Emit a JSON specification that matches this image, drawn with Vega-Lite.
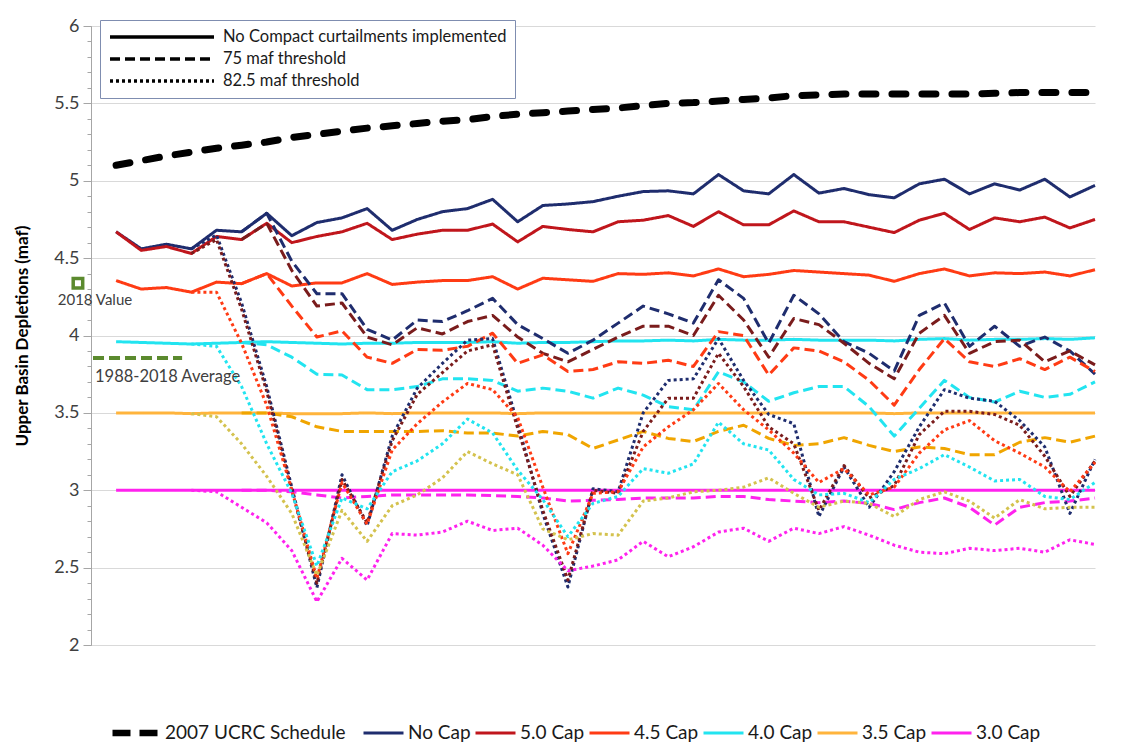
{
"$schema":"https://vega.github.io/schema/vega-lite/v6.json",
"width":1004,"height":619,
"autosize":{"type":"none"},
"padding":{"left":91,"top":26,"right":29,"bottom":101},
"background":"white",
"config":{"font":"Lato","view":{"stroke":null},"axis":{"labelFont":"Lato","titleFont":"Lato"},"legend":{"labelFont":"Lato"}},
"datasets":{
"ucrc":[
{"year":2021,"cap":"2007 UCRC Schedule","value":5.10},{"year":2022,"cap":"2007 UCRC Schedule","value":5.13},{"year":2023,"cap":"2007 UCRC Schedule","value":5.16},{"year":2024,"cap":"2007 UCRC Schedule","value":5.185},{"year":2025,"cap":"2007 UCRC Schedule","value":5.21},
{"year":2026,"cap":"2007 UCRC Schedule","value":5.23},{"year":2027,"cap":"2007 UCRC Schedule","value":5.25},{"year":2028,"cap":"2007 UCRC Schedule","value":5.28},{"year":2029,"cap":"2007 UCRC Schedule","value":5.30},{"year":2030,"cap":"2007 UCRC Schedule","value":5.32},
{"year":2031,"cap":"2007 UCRC Schedule","value":5.34},{"year":2032,"cap":"2007 UCRC Schedule","value":5.355},{"year":2033,"cap":"2007 UCRC Schedule","value":5.37},{"year":2034,"cap":"2007 UCRC Schedule","value":5.385},{"year":2035,"cap":"2007 UCRC Schedule","value":5.395},
{"year":2036,"cap":"2007 UCRC Schedule","value":5.415},{"year":2037,"cap":"2007 UCRC Schedule","value":5.43},{"year":2038,"cap":"2007 UCRC Schedule","value":5.44},{"year":2039,"cap":"2007 UCRC Schedule","value":5.45},{"year":2040,"cap":"2007 UCRC Schedule","value":5.46},
{"year":2041,"cap":"2007 UCRC Schedule","value":5.47},{"year":2042,"cap":"2007 UCRC Schedule","value":5.485},{"year":2043,"cap":"2007 UCRC Schedule","value":5.50},{"year":2044,"cap":"2007 UCRC Schedule","value":5.505},{"year":2045,"cap":"2007 UCRC Schedule","value":5.515},
{"year":2046,"cap":"2007 UCRC Schedule","value":5.525},{"year":2047,"cap":"2007 UCRC Schedule","value":5.535},{"year":2048,"cap":"2007 UCRC Schedule","value":5.55},{"year":2049,"cap":"2007 UCRC Schedule","value":5.555},{"year":2050,"cap":"2007 UCRC Schedule","value":5.56},
{"year":2051,"cap":"2007 UCRC Schedule","value":5.56},{"year":2052,"cap":"2007 UCRC Schedule","value":5.56},{"year":2053,"cap":"2007 UCRC Schedule","value":5.56},{"year":2054,"cap":"2007 UCRC Schedule","value":5.56},{"year":2055,"cap":"2007 UCRC Schedule","value":5.56},
{"year":2056,"cap":"2007 UCRC Schedule","value":5.565},{"year":2057,"cap":"2007 UCRC Schedule","value":5.57},{"year":2058,"cap":"2007 UCRC Schedule","value":5.57},{"year":2059,"cap":"2007 UCRC Schedule","value":5.57},{"year":2060,"cap":"2007 UCRC Schedule","value":5.57}
],
"ref2018":[{"year":2019.48,"value":4.337}],
"avg":[{"start":2020.08,"end":2023.63,"value":3.855}],
"caps":[
{"year":2021,"cap":"No Cap","case":"none","value":4.67},{"year":2022,"cap":"No Cap","case":"none","value":4.56},{"year":2023,"cap":"No Cap","case":"none","value":4.59},{"year":2024,"cap":"No Cap","case":"none","value":4.56},{"year":2025,"cap":"No Cap","case":"none","value":4.68},
{"year":2026,"cap":"No Cap","case":"none","value":4.67},{"year":2027,"cap":"No Cap","case":"none","value":4.79},{"year":2028,"cap":"No Cap","case":"none","value":4.645},{"year":2029,"cap":"No Cap","case":"none","value":4.73},{"year":2030,"cap":"No Cap","case":"none","value":4.76},
{"year":2031,"cap":"No Cap","case":"none","value":4.82},{"year":2032,"cap":"No Cap","case":"none","value":4.68},{"year":2033,"cap":"No Cap","case":"none","value":4.75},{"year":2034,"cap":"No Cap","case":"none","value":4.80},{"year":2035,"cap":"No Cap","case":"none","value":4.82},
{"year":2036,"cap":"No Cap","case":"none","value":4.88},{"year":2037,"cap":"No Cap","case":"none","value":4.735},{"year":2038,"cap":"No Cap","case":"none","value":4.84},{"year":2039,"cap":"No Cap","case":"none","value":4.85},{"year":2040,"cap":"No Cap","case":"none","value":4.865},
{"year":2041,"cap":"No Cap","case":"none","value":4.90},{"year":2042,"cap":"No Cap","case":"none","value":4.93},{"year":2043,"cap":"No Cap","case":"none","value":4.935},{"year":2044,"cap":"No Cap","case":"none","value":4.915},{"year":2045,"cap":"No Cap","case":"none","value":5.04},
{"year":2046,"cap":"No Cap","case":"none","value":4.935},{"year":2047,"cap":"No Cap","case":"none","value":4.915},{"year":2048,"cap":"No Cap","case":"none","value":5.04},{"year":2049,"cap":"No Cap","case":"none","value":4.92},{"year":2050,"cap":"No Cap","case":"none","value":4.95},
{"year":2051,"cap":"No Cap","case":"none","value":4.91},{"year":2052,"cap":"No Cap","case":"none","value":4.89},{"year":2053,"cap":"No Cap","case":"none","value":4.98},{"year":2054,"cap":"No Cap","case":"none","value":5.01},{"year":2055,"cap":"No Cap","case":"none","value":4.915},
{"year":2056,"cap":"No Cap","case":"none","value":4.98},{"year":2057,"cap":"No Cap","case":"none","value":4.94},{"year":2058,"cap":"No Cap","case":"none","value":5.01},{"year":2059,"cap":"No Cap","case":"none","value":4.895},{"year":2060,"cap":"No Cap","case":"none","value":4.97},

{"year":2021,"cap":"5.0 Cap","case":"none","value":4.67},{"year":2022,"cap":"5.0 Cap","case":"none","value":4.55},{"year":2023,"cap":"5.0 Cap","case":"none","value":4.575},{"year":2024,"cap":"5.0 Cap","case":"none","value":4.53},{"year":2025,"cap":"5.0 Cap","case":"none","value":4.64},
{"year":2026,"cap":"5.0 Cap","case":"none","value":4.62},{"year":2027,"cap":"5.0 Cap","case":"none","value":4.725},{"year":2028,"cap":"5.0 Cap","case":"none","value":4.60},{"year":2029,"cap":"5.0 Cap","case":"none","value":4.64},{"year":2030,"cap":"5.0 Cap","case":"none","value":4.67},
{"year":2031,"cap":"5.0 Cap","case":"none","value":4.725},{"year":2032,"cap":"5.0 Cap","case":"none","value":4.62},{"year":2033,"cap":"5.0 Cap","case":"none","value":4.655},{"year":2034,"cap":"5.0 Cap","case":"none","value":4.68},{"year":2035,"cap":"5.0 Cap","case":"none","value":4.68},
{"year":2036,"cap":"5.0 Cap","case":"none","value":4.72},{"year":2037,"cap":"5.0 Cap","case":"none","value":4.605},{"year":2038,"cap":"5.0 Cap","case":"none","value":4.705},{"year":2039,"cap":"5.0 Cap","case":"none","value":4.685},{"year":2040,"cap":"5.0 Cap","case":"none","value":4.67},
{"year":2041,"cap":"5.0 Cap","case":"none","value":4.735},{"year":2042,"cap":"5.0 Cap","case":"none","value":4.745},{"year":2043,"cap":"5.0 Cap","case":"none","value":4.775},{"year":2044,"cap":"5.0 Cap","case":"none","value":4.705},{"year":2045,"cap":"5.0 Cap","case":"none","value":4.80},
{"year":2046,"cap":"5.0 Cap","case":"none","value":4.715},{"year":2047,"cap":"5.0 Cap","case":"none","value":4.715},{"year":2048,"cap":"5.0 Cap","case":"none","value":4.805},{"year":2049,"cap":"5.0 Cap","case":"none","value":4.735},{"year":2050,"cap":"5.0 Cap","case":"none","value":4.735},
{"year":2051,"cap":"5.0 Cap","case":"none","value":4.70},{"year":2052,"cap":"5.0 Cap","case":"none","value":4.665},{"year":2053,"cap":"5.0 Cap","case":"none","value":4.745},{"year":2054,"cap":"5.0 Cap","case":"none","value":4.79},{"year":2055,"cap":"5.0 Cap","case":"none","value":4.685},
{"year":2056,"cap":"5.0 Cap","case":"none","value":4.76},{"year":2057,"cap":"5.0 Cap","case":"none","value":4.735},{"year":2058,"cap":"5.0 Cap","case":"none","value":4.765},{"year":2059,"cap":"5.0 Cap","case":"none","value":4.695},{"year":2060,"cap":"5.0 Cap","case":"none","value":4.75},

{"year":2021,"cap":"4.5 Cap","case":"none","value":4.355},{"year":2022,"cap":"4.5 Cap","case":"none","value":4.30},{"year":2023,"cap":"4.5 Cap","case":"none","value":4.31},{"year":2024,"cap":"4.5 Cap","case":"none","value":4.28},{"year":2025,"cap":"4.5 Cap","case":"none","value":4.345},
{"year":2026,"cap":"4.5 Cap","case":"none","value":4.335},{"year":2027,"cap":"4.5 Cap","case":"none","value":4.40},{"year":2028,"cap":"4.5 Cap","case":"none","value":4.32},{"year":2029,"cap":"4.5 Cap","case":"none","value":4.34},{"year":2030,"cap":"4.5 Cap","case":"none","value":4.34},
{"year":2031,"cap":"4.5 Cap","case":"none","value":4.40},{"year":2032,"cap":"4.5 Cap","case":"none","value":4.33},{"year":2033,"cap":"4.5 Cap","case":"none","value":4.345},{"year":2034,"cap":"4.5 Cap","case":"none","value":4.355},{"year":2035,"cap":"4.5 Cap","case":"none","value":4.355},
{"year":2036,"cap":"4.5 Cap","case":"none","value":4.38},{"year":2037,"cap":"4.5 Cap","case":"none","value":4.30},{"year":2038,"cap":"4.5 Cap","case":"none","value":4.37},{"year":2039,"cap":"4.5 Cap","case":"none","value":4.36},{"year":2040,"cap":"4.5 Cap","case":"none","value":4.35},
{"year":2041,"cap":"4.5 Cap","case":"none","value":4.40},{"year":2042,"cap":"4.5 Cap","case":"none","value":4.395},{"year":2043,"cap":"4.5 Cap","case":"none","value":4.405},{"year":2044,"cap":"4.5 Cap","case":"none","value":4.385},{"year":2045,"cap":"4.5 Cap","case":"none","value":4.43},
{"year":2046,"cap":"4.5 Cap","case":"none","value":4.38},{"year":2047,"cap":"4.5 Cap","case":"none","value":4.395},{"year":2048,"cap":"4.5 Cap","case":"none","value":4.42},{"year":2049,"cap":"4.5 Cap","case":"none","value":4.41},{"year":2050,"cap":"4.5 Cap","case":"none","value":4.40},
{"year":2051,"cap":"4.5 Cap","case":"none","value":4.39},{"year":2052,"cap":"4.5 Cap","case":"none","value":4.35},{"year":2053,"cap":"4.5 Cap","case":"none","value":4.40},{"year":2054,"cap":"4.5 Cap","case":"none","value":4.43},{"year":2055,"cap":"4.5 Cap","case":"none","value":4.385},
{"year":2056,"cap":"4.5 Cap","case":"none","value":4.405},{"year":2057,"cap":"4.5 Cap","case":"none","value":4.40},{"year":2058,"cap":"4.5 Cap","case":"none","value":4.41},{"year":2059,"cap":"4.5 Cap","case":"none","value":4.385},{"year":2060,"cap":"4.5 Cap","case":"none","value":4.425},

{"year":2021,"cap":"4.0 Cap","case":"none","value":3.96},{"year":2022,"cap":"4.0 Cap","case":"none","value":3.955},{"year":2023,"cap":"4.0 Cap","case":"none","value":3.95},{"year":2024,"cap":"4.0 Cap","case":"none","value":3.945},{"year":2025,"cap":"4.0 Cap","case":"none","value":3.95},
{"year":2026,"cap":"4.0 Cap","case":"none","value":3.955},{"year":2027,"cap":"4.0 Cap","case":"none","value":3.96},{"year":2028,"cap":"4.0 Cap","case":"none","value":3.955},{"year":2029,"cap":"4.0 Cap","case":"none","value":3.95},{"year":2030,"cap":"4.0 Cap","case":"none","value":3.945},
{"year":2031,"cap":"4.0 Cap","case":"none","value":3.95},{"year":2032,"cap":"4.0 Cap","case":"none","value":3.95},{"year":2033,"cap":"4.0 Cap","case":"none","value":3.955},{"year":2034,"cap":"4.0 Cap","case":"none","value":3.955},{"year":2035,"cap":"4.0 Cap","case":"none","value":3.955},
{"year":2036,"cap":"4.0 Cap","case":"none","value":3.96},{"year":2037,"cap":"4.0 Cap","case":"none","value":3.95},{"year":2038,"cap":"4.0 Cap","case":"none","value":3.955},{"year":2039,"cap":"4.0 Cap","case":"none","value":3.955},{"year":2040,"cap":"4.0 Cap","case":"none","value":3.96},
{"year":2041,"cap":"4.0 Cap","case":"none","value":3.965},{"year":2042,"cap":"4.0 Cap","case":"none","value":3.965},{"year":2043,"cap":"4.0 Cap","case":"none","value":3.97},{"year":2044,"cap":"4.0 Cap","case":"none","value":3.965},{"year":2045,"cap":"4.0 Cap","case":"none","value":3.975},
{"year":2046,"cap":"4.0 Cap","case":"none","value":3.97},{"year":2047,"cap":"4.0 Cap","case":"none","value":3.97},{"year":2048,"cap":"4.0 Cap","case":"none","value":3.975},{"year":2049,"cap":"4.0 Cap","case":"none","value":3.97},{"year":2050,"cap":"4.0 Cap","case":"none","value":3.97},
{"year":2051,"cap":"4.0 Cap","case":"none","value":3.97},{"year":2052,"cap":"4.0 Cap","case":"none","value":3.965},{"year":2053,"cap":"4.0 Cap","case":"none","value":3.975},{"year":2054,"cap":"4.0 Cap","case":"none","value":3.98},{"year":2055,"cap":"4.0 Cap","case":"none","value":3.97},
{"year":2056,"cap":"4.0 Cap","case":"none","value":3.975},{"year":2057,"cap":"4.0 Cap","case":"none","value":3.975},{"year":2058,"cap":"4.0 Cap","case":"none","value":3.98},{"year":2059,"cap":"4.0 Cap","case":"none","value":3.975},{"year":2060,"cap":"4.0 Cap","case":"none","value":3.985},

{"year":2021,"cap":"3.5 Cap","case":"none","value":3.50},{"year":2022,"cap":"3.5 Cap","case":"none","value":3.50},{"year":2023,"cap":"3.5 Cap","case":"none","value":3.50},{"year":2024,"cap":"3.5 Cap","case":"none","value":3.495},{"year":2025,"cap":"3.5 Cap","case":"none","value":3.50},
{"year":2026,"cap":"3.5 Cap","case":"none","value":3.50},{"year":2027,"cap":"3.5 Cap","case":"none","value":3.50},{"year":2028,"cap":"3.5 Cap","case":"none","value":3.495},{"year":2029,"cap":"3.5 Cap","case":"none","value":3.495},{"year":2030,"cap":"3.5 Cap","case":"none","value":3.495},
{"year":2031,"cap":"3.5 Cap","case":"none","value":3.50},{"year":2032,"cap":"3.5 Cap","case":"none","value":3.495},{"year":2033,"cap":"3.5 Cap","case":"none","value":3.50},{"year":2034,"cap":"3.5 Cap","case":"none","value":3.50},{"year":2035,"cap":"3.5 Cap","case":"none","value":3.50},
{"year":2036,"cap":"3.5 Cap","case":"none","value":3.50},{"year":2037,"cap":"3.5 Cap","case":"none","value":3.495},{"year":2038,"cap":"3.5 Cap","case":"none","value":3.50},{"year":2039,"cap":"3.5 Cap","case":"none","value":3.50},{"year":2040,"cap":"3.5 Cap","case":"none","value":3.50},
{"year":2041,"cap":"3.5 Cap","case":"none","value":3.50},{"year":2042,"cap":"3.5 Cap","case":"none","value":3.50},{"year":2043,"cap":"3.5 Cap","case":"none","value":3.50},{"year":2044,"cap":"3.5 Cap","case":"none","value":3.50},{"year":2045,"cap":"3.5 Cap","case":"none","value":3.50},
{"year":2046,"cap":"3.5 Cap","case":"none","value":3.50},{"year":2047,"cap":"3.5 Cap","case":"none","value":3.50},{"year":2048,"cap":"3.5 Cap","case":"none","value":3.50},{"year":2049,"cap":"3.5 Cap","case":"none","value":3.50},{"year":2050,"cap":"3.5 Cap","case":"none","value":3.50},
{"year":2051,"cap":"3.5 Cap","case":"none","value":3.50},{"year":2052,"cap":"3.5 Cap","case":"none","value":3.495},{"year":2053,"cap":"3.5 Cap","case":"none","value":3.50},{"year":2054,"cap":"3.5 Cap","case":"none","value":3.50},{"year":2055,"cap":"3.5 Cap","case":"none","value":3.50},
{"year":2056,"cap":"3.5 Cap","case":"none","value":3.50},{"year":2057,"cap":"3.5 Cap","case":"none","value":3.50},{"year":2058,"cap":"3.5 Cap","case":"none","value":3.50},{"year":2059,"cap":"3.5 Cap","case":"none","value":3.50},{"year":2060,"cap":"3.5 Cap","case":"none","value":3.50},

{"year":2021,"cap":"3.0 Cap","case":"none","value":3.0},{"year":2022,"cap":"3.0 Cap","case":"none","value":3.0},{"year":2023,"cap":"3.0 Cap","case":"none","value":3.0},{"year":2024,"cap":"3.0 Cap","case":"none","value":3.0},{"year":2025,"cap":"3.0 Cap","case":"none","value":3.0},
{"year":2026,"cap":"3.0 Cap","case":"none","value":3.0},{"year":2027,"cap":"3.0 Cap","case":"none","value":3.0},{"year":2028,"cap":"3.0 Cap","case":"none","value":3.0},{"year":2029,"cap":"3.0 Cap","case":"none","value":3.0},{"year":2030,"cap":"3.0 Cap","case":"none","value":3.0},
{"year":2031,"cap":"3.0 Cap","case":"none","value":3.0},{"year":2032,"cap":"3.0 Cap","case":"none","value":3.0},{"year":2033,"cap":"3.0 Cap","case":"none","value":3.0},{"year":2034,"cap":"3.0 Cap","case":"none","value":3.0},{"year":2035,"cap":"3.0 Cap","case":"none","value":3.0},
{"year":2036,"cap":"3.0 Cap","case":"none","value":3.0},{"year":2037,"cap":"3.0 Cap","case":"none","value":3.0},{"year":2038,"cap":"3.0 Cap","case":"none","value":3.0},{"year":2039,"cap":"3.0 Cap","case":"none","value":3.0},{"year":2040,"cap":"3.0 Cap","case":"none","value":3.0},
{"year":2041,"cap":"3.0 Cap","case":"none","value":3.0},{"year":2042,"cap":"3.0 Cap","case":"none","value":3.0},{"year":2043,"cap":"3.0 Cap","case":"none","value":3.0},{"year":2044,"cap":"3.0 Cap","case":"none","value":3.0},{"year":2045,"cap":"3.0 Cap","case":"none","value":3.0},
{"year":2046,"cap":"3.0 Cap","case":"none","value":3.0},{"year":2047,"cap":"3.0 Cap","case":"none","value":3.0},{"year":2048,"cap":"3.0 Cap","case":"none","value":3.0},{"year":2049,"cap":"3.0 Cap","case":"none","value":3.0},{"year":2050,"cap":"3.0 Cap","case":"none","value":3.0},
{"year":2051,"cap":"3.0 Cap","case":"none","value":3.0},{"year":2052,"cap":"3.0 Cap","case":"none","value":3.0},{"year":2053,"cap":"3.0 Cap","case":"none","value":3.0},{"year":2054,"cap":"3.0 Cap","case":"none","value":3.0},{"year":2055,"cap":"3.0 Cap","case":"none","value":3.0},
{"year":2056,"cap":"3.0 Cap","case":"none","value":3.0},{"year":2057,"cap":"3.0 Cap","case":"none","value":3.0},{"year":2058,"cap":"3.0 Cap","case":"none","value":3.0},{"year":2059,"cap":"3.0 Cap","case":"none","value":3.0},{"year":2060,"cap":"3.0 Cap","case":"none","value":3.0},

{"year":2026,"cap":"No Cap","case":"75","value":4.67},{"year":2027,"cap":"No Cap","case":"75","value":4.79},{"year":2028,"cap":"No Cap","case":"75","value":4.48},{"year":2029,"cap":"No Cap","case":"75","value":4.27},{"year":2030,"cap":"No Cap","case":"75","value":4.27},
{"year":2031,"cap":"No Cap","case":"75","value":4.04},{"year":2032,"cap":"No Cap","case":"75","value":3.97},{"year":2033,"cap":"No Cap","case":"75","value":4.10},{"year":2034,"cap":"No Cap","case":"75","value":4.09},{"year":2035,"cap":"No Cap","case":"75","value":4.16},
{"year":2036,"cap":"No Cap","case":"75","value":4.24},{"year":2037,"cap":"No Cap","case":"75","value":4.07},{"year":2038,"cap":"No Cap","case":"75","value":3.98},{"year":2039,"cap":"No Cap","case":"75","value":3.885},{"year":2040,"cap":"No Cap","case":"75","value":3.97},
{"year":2041,"cap":"No Cap","case":"75","value":4.08},{"year":2042,"cap":"No Cap","case":"75","value":4.19},{"year":2043,"cap":"No Cap","case":"75","value":4.14},{"year":2044,"cap":"No Cap","case":"75","value":4.08},{"year":2045,"cap":"No Cap","case":"75","value":4.36},
{"year":2046,"cap":"No Cap","case":"75","value":4.24},{"year":2047,"cap":"No Cap","case":"75","value":3.95},{"year":2048,"cap":"No Cap","case":"75","value":4.26},{"year":2049,"cap":"No Cap","case":"75","value":4.14},{"year":2050,"cap":"No Cap","case":"75","value":3.96},
{"year":2051,"cap":"No Cap","case":"75","value":3.885},{"year":2052,"cap":"No Cap","case":"75","value":3.77},{"year":2053,"cap":"No Cap","case":"75","value":4.13},{"year":2054,"cap":"No Cap","case":"75","value":4.21},{"year":2055,"cap":"No Cap","case":"75","value":3.93},
{"year":2056,"cap":"No Cap","case":"75","value":4.06},{"year":2057,"cap":"No Cap","case":"75","value":3.93},{"year":2058,"cap":"No Cap","case":"75","value":3.99},{"year":2059,"cap":"No Cap","case":"75","value":3.90},{"year":2060,"cap":"No Cap","case":"75","value":3.75},

{"year":2026,"cap":"5.0 Cap","case":"75","value":4.62},{"year":2027,"cap":"5.0 Cap","case":"75","value":4.725},{"year":2028,"cap":"5.0 Cap","case":"75","value":4.42},{"year":2029,"cap":"5.0 Cap","case":"75","value":4.19},{"year":2030,"cap":"5.0 Cap","case":"75","value":4.21},
{"year":2031,"cap":"5.0 Cap","case":"75","value":3.99},{"year":2032,"cap":"5.0 Cap","case":"75","value":3.94},{"year":2033,"cap":"5.0 Cap","case":"75","value":4.05},{"year":2034,"cap":"5.0 Cap","case":"75","value":4.01},{"year":2035,"cap":"5.0 Cap","case":"75","value":4.09},
{"year":2036,"cap":"5.0 Cap","case":"75","value":4.13},{"year":2037,"cap":"5.0 Cap","case":"75","value":3.99},{"year":2038,"cap":"5.0 Cap","case":"75","value":3.885},{"year":2039,"cap":"5.0 Cap","case":"75","value":3.83},{"year":2040,"cap":"5.0 Cap","case":"75","value":3.91},
{"year":2041,"cap":"5.0 Cap","case":"75","value":3.99},{"year":2042,"cap":"5.0 Cap","case":"75","value":4.06},{"year":2043,"cap":"5.0 Cap","case":"75","value":4.06},{"year":2044,"cap":"5.0 Cap","case":"75","value":4.00},{"year":2045,"cap":"5.0 Cap","case":"75","value":4.26},
{"year":2046,"cap":"5.0 Cap","case":"75","value":4.10},{"year":2047,"cap":"5.0 Cap","case":"75","value":3.86},{"year":2048,"cap":"5.0 Cap","case":"75","value":4.11},{"year":2049,"cap":"5.0 Cap","case":"75","value":4.07},{"year":2050,"cap":"5.0 Cap","case":"75","value":3.95},
{"year":2051,"cap":"5.0 Cap","case":"75","value":3.82},{"year":2052,"cap":"5.0 Cap","case":"75","value":3.72},{"year":2053,"cap":"5.0 Cap","case":"75","value":4.015},{"year":2054,"cap":"5.0 Cap","case":"75","value":4.13},{"year":2055,"cap":"5.0 Cap","case":"75","value":3.885},
{"year":2056,"cap":"5.0 Cap","case":"75","value":3.96},{"year":2057,"cap":"5.0 Cap","case":"75","value":3.97},{"year":2058,"cap":"5.0 Cap","case":"75","value":3.83},{"year":2059,"cap":"5.0 Cap","case":"75","value":3.90},{"year":2060,"cap":"5.0 Cap","case":"75","value":3.81},

{"year":2026,"cap":"4.5 Cap","case":"75","value":4.335},{"year":2027,"cap":"4.5 Cap","case":"75","value":4.40},{"year":2028,"cap":"4.5 Cap","case":"75","value":4.19},{"year":2029,"cap":"4.5 Cap","case":"75","value":3.99},{"year":2030,"cap":"4.5 Cap","case":"75","value":4.03},
{"year":2031,"cap":"4.5 Cap","case":"75","value":3.86},{"year":2032,"cap":"4.5 Cap","case":"75","value":3.82},{"year":2033,"cap":"4.5 Cap","case":"75","value":3.91},{"year":2034,"cap":"4.5 Cap","case":"75","value":3.905},{"year":2035,"cap":"4.5 Cap","case":"75","value":3.93},
{"year":2036,"cap":"4.5 Cap","case":"75","value":4.015},{"year":2037,"cap":"4.5 Cap","case":"75","value":3.82},{"year":2038,"cap":"4.5 Cap","case":"75","value":3.875},{"year":2039,"cap":"4.5 Cap","case":"75","value":3.767},{"year":2040,"cap":"4.5 Cap","case":"75","value":3.78},
{"year":2041,"cap":"4.5 Cap","case":"75","value":3.83},{"year":2042,"cap":"4.5 Cap","case":"75","value":3.82},{"year":2043,"cap":"4.5 Cap","case":"75","value":3.84},{"year":2044,"cap":"4.5 Cap","case":"75","value":3.80},{"year":2045,"cap":"4.5 Cap","case":"75","value":4.025},
{"year":2046,"cap":"4.5 Cap","case":"75","value":4.00},{"year":2047,"cap":"4.5 Cap","case":"75","value":3.745},{"year":2048,"cap":"4.5 Cap","case":"75","value":3.92},{"year":2049,"cap":"4.5 Cap","case":"75","value":3.90},{"year":2050,"cap":"4.5 Cap","case":"75","value":3.83},
{"year":2051,"cap":"4.5 Cap","case":"75","value":3.71},{"year":2052,"cap":"4.5 Cap","case":"75","value":3.55},{"year":2053,"cap":"4.5 Cap","case":"75","value":3.78},{"year":2054,"cap":"4.5 Cap","case":"75","value":3.98},{"year":2055,"cap":"4.5 Cap","case":"75","value":3.83},
{"year":2056,"cap":"4.5 Cap","case":"75","value":3.80},{"year":2057,"cap":"4.5 Cap","case":"75","value":3.85},{"year":2058,"cap":"4.5 Cap","case":"75","value":3.78},{"year":2059,"cap":"4.5 Cap","case":"75","value":3.86},{"year":2060,"cap":"4.5 Cap","case":"75","value":3.767},

{"year":2026,"cap":"4.0 Cap","case":"75","value":3.955},{"year":2027,"cap":"4.0 Cap","case":"75","value":3.94},{"year":2028,"cap":"4.0 Cap","case":"75","value":3.86},{"year":2029,"cap":"4.0 Cap","case":"75","value":3.75},{"year":2030,"cap":"4.0 Cap","case":"75","value":3.745},
{"year":2031,"cap":"4.0 Cap","case":"75","value":3.65},{"year":2032,"cap":"4.0 Cap","case":"75","value":3.65},{"year":2033,"cap":"4.0 Cap","case":"75","value":3.67},{"year":2034,"cap":"4.0 Cap","case":"75","value":3.72},{"year":2035,"cap":"4.0 Cap","case":"75","value":3.72},
{"year":2036,"cap":"4.0 Cap","case":"75","value":3.71},{"year":2037,"cap":"4.0 Cap","case":"75","value":3.64},{"year":2038,"cap":"4.0 Cap","case":"75","value":3.66},{"year":2039,"cap":"4.0 Cap","case":"75","value":3.64},{"year":2040,"cap":"4.0 Cap","case":"75","value":3.595},
{"year":2041,"cap":"4.0 Cap","case":"75","value":3.66},{"year":2042,"cap":"4.0 Cap","case":"75","value":3.615},{"year":2043,"cap":"4.0 Cap","case":"75","value":3.54},{"year":2044,"cap":"4.0 Cap","case":"75","value":3.52},{"year":2045,"cap":"4.0 Cap","case":"75","value":3.765},
{"year":2046,"cap":"4.0 Cap","case":"75","value":3.70},{"year":2047,"cap":"4.0 Cap","case":"75","value":3.575},{"year":2048,"cap":"4.0 Cap","case":"75","value":3.63},{"year":2049,"cap":"4.0 Cap","case":"75","value":3.67},{"year":2050,"cap":"4.0 Cap","case":"75","value":3.67},
{"year":2051,"cap":"4.0 Cap","case":"75","value":3.54},{"year":2052,"cap":"4.0 Cap","case":"75","value":3.35},{"year":2053,"cap":"4.0 Cap","case":"75","value":3.53},{"year":2054,"cap":"4.0 Cap","case":"75","value":3.71},{"year":2055,"cap":"4.0 Cap","case":"75","value":3.60},
{"year":2056,"cap":"4.0 Cap","case":"75","value":3.57},{"year":2057,"cap":"4.0 Cap","case":"75","value":3.64},{"year":2058,"cap":"4.0 Cap","case":"75","value":3.60},{"year":2059,"cap":"4.0 Cap","case":"75","value":3.62},{"year":2060,"cap":"4.0 Cap","case":"75","value":3.70},

{"year":2026,"cap":"3.5 Cap","case":"75","value":3.50},{"year":2027,"cap":"3.5 Cap","case":"75","value":3.50},{"year":2028,"cap":"3.5 Cap","case":"75","value":3.475},{"year":2029,"cap":"3.5 Cap","case":"75","value":3.41},{"year":2030,"cap":"3.5 Cap","case":"75","value":3.38},
{"year":2031,"cap":"3.5 Cap","case":"75","value":3.38},{"year":2032,"cap":"3.5 Cap","case":"75","value":3.38},{"year":2033,"cap":"3.5 Cap","case":"75","value":3.38},{"year":2034,"cap":"3.5 Cap","case":"75","value":3.385},{"year":2035,"cap":"3.5 Cap","case":"75","value":3.37},
{"year":2036,"cap":"3.5 Cap","case":"75","value":3.37},{"year":2037,"cap":"3.5 Cap","case":"75","value":3.35},{"year":2038,"cap":"3.5 Cap","case":"75","value":3.38},{"year":2039,"cap":"3.5 Cap","case":"75","value":3.36},{"year":2040,"cap":"3.5 Cap","case":"75","value":3.27},
{"year":2041,"cap":"3.5 Cap","case":"75","value":3.325},{"year":2042,"cap":"3.5 Cap","case":"75","value":3.38},{"year":2043,"cap":"3.5 Cap","case":"75","value":3.335},{"year":2044,"cap":"3.5 Cap","case":"75","value":3.315},{"year":2045,"cap":"3.5 Cap","case":"75","value":3.38},
{"year":2046,"cap":"3.5 Cap","case":"75","value":3.42},{"year":2047,"cap":"3.5 Cap","case":"75","value":3.335},{"year":2048,"cap":"3.5 Cap","case":"75","value":3.29},{"year":2049,"cap":"3.5 Cap","case":"75","value":3.30},{"year":2050,"cap":"3.5 Cap","case":"75","value":3.34},
{"year":2051,"cap":"3.5 Cap","case":"75","value":3.29},{"year":2052,"cap":"3.5 Cap","case":"75","value":3.25},{"year":2053,"cap":"3.5 Cap","case":"75","value":3.28},{"year":2054,"cap":"3.5 Cap","case":"75","value":3.27},{"year":2055,"cap":"3.5 Cap","case":"75","value":3.23},
{"year":2056,"cap":"3.5 Cap","case":"75","value":3.23},{"year":2057,"cap":"3.5 Cap","case":"75","value":3.31},{"year":2058,"cap":"3.5 Cap","case":"75","value":3.34},{"year":2059,"cap":"3.5 Cap","case":"75","value":3.31},{"year":2060,"cap":"3.5 Cap","case":"75","value":3.35},

{"year":2026,"cap":"3.0 Cap","case":"75","value":3.0},{"year":2027,"cap":"3.0 Cap","case":"75","value":3.0},{"year":2028,"cap":"3.0 Cap","case":"75","value":2.99},{"year":2029,"cap":"3.0 Cap","case":"75","value":2.97},{"year":2030,"cap":"3.0 Cap","case":"75","value":2.95},
{"year":2031,"cap":"3.0 Cap","case":"75","value":2.96},{"year":2032,"cap":"3.0 Cap","case":"75","value":2.97},{"year":2033,"cap":"3.0 Cap","case":"75","value":2.97},{"year":2034,"cap":"3.0 Cap","case":"75","value":2.97},{"year":2035,"cap":"3.0 Cap","case":"75","value":2.97},
{"year":2036,"cap":"3.0 Cap","case":"75","value":2.965},{"year":2037,"cap":"3.0 Cap","case":"75","value":2.96},{"year":2038,"cap":"3.0 Cap","case":"75","value":2.95},{"year":2039,"cap":"3.0 Cap","case":"75","value":2.93},{"year":2040,"cap":"3.0 Cap","case":"75","value":2.935},
{"year":2041,"cap":"3.0 Cap","case":"75","value":2.94},{"year":2042,"cap":"3.0 Cap","case":"75","value":2.95},{"year":2043,"cap":"3.0 Cap","case":"75","value":2.95},{"year":2044,"cap":"3.0 Cap","case":"75","value":2.95},{"year":2045,"cap":"3.0 Cap","case":"75","value":2.96},
{"year":2046,"cap":"3.0 Cap","case":"75","value":2.96},{"year":2047,"cap":"3.0 Cap","case":"75","value":2.94},{"year":2048,"cap":"3.0 Cap","case":"75","value":2.93},{"year":2049,"cap":"3.0 Cap","case":"75","value":2.92},{"year":2050,"cap":"3.0 Cap","case":"75","value":2.93},
{"year":2051,"cap":"3.0 Cap","case":"75","value":2.915},{"year":2052,"cap":"3.0 Cap","case":"75","value":2.875},{"year":2053,"cap":"3.0 Cap","case":"75","value":2.92},{"year":2054,"cap":"3.0 Cap","case":"75","value":2.95},{"year":2055,"cap":"3.0 Cap","case":"75","value":2.89},
{"year":2056,"cap":"3.0 Cap","case":"75","value":2.775},{"year":2057,"cap":"3.0 Cap","case":"75","value":2.89},{"year":2058,"cap":"3.0 Cap","case":"75","value":2.92},{"year":2059,"cap":"3.0 Cap","case":"75","value":2.93},{"year":2060,"cap":"3.0 Cap","case":"75","value":2.95},

{"year":2024,"cap":"No Cap","case":"82.5","value":4.56},
{"year":2025,"cap":"No Cap","case":"82.5","value":4.65},{"year":2026,"cap":"No Cap","case":"82.5","value":4.21},{"year":2027,"cap":"No Cap","case":"82.5","value":3.67},{"year":2028,"cap":"No Cap","case":"82.5","value":3.02},{"year":2029,"cap":"No Cap","case":"82.5","value":2.37},
{"year":2030,"cap":"No Cap","case":"82.5","value":3.10},{"year":2031,"cap":"No Cap","case":"82.5","value":2.77},{"year":2032,"cap":"No Cap","case":"82.5","value":3.35},{"year":2033,"cap":"No Cap","case":"82.5","value":3.66},{"year":2034,"cap":"No Cap","case":"82.5","value":3.82},
{"year":2035,"cap":"No Cap","case":"82.5","value":3.97},{"year":2036,"cap":"No Cap","case":"82.5","value":3.98},{"year":2037,"cap":"No Cap","case":"82.5","value":3.43},{"year":2038,"cap":"No Cap","case":"82.5","value":2.85},{"year":2039,"cap":"No Cap","case":"82.5","value":2.375},
{"year":2040,"cap":"No Cap","case":"82.5","value":3.01},{"year":2041,"cap":"No Cap","case":"82.5","value":2.99},{"year":2042,"cap":"No Cap","case":"82.5","value":3.50},{"year":2043,"cap":"No Cap","case":"82.5","value":3.71},{"year":2044,"cap":"No Cap","case":"82.5","value":3.72},
{"year":2045,"cap":"No Cap","case":"82.5","value":3.98},{"year":2046,"cap":"No Cap","case":"82.5","value":3.71},{"year":2047,"cap":"No Cap","case":"82.5","value":3.49},{"year":2048,"cap":"No Cap","case":"82.5","value":3.43},{"year":2049,"cap":"No Cap","case":"82.5","value":2.83},
{"year":2050,"cap":"No Cap","case":"82.5","value":3.15},{"year":2051,"cap":"No Cap","case":"82.5","value":2.89},{"year":2052,"cap":"No Cap","case":"82.5","value":3.12},{"year":2053,"cap":"No Cap","case":"82.5","value":3.41},{"year":2054,"cap":"No Cap","case":"82.5","value":3.65},
{"year":2055,"cap":"No Cap","case":"82.5","value":3.595},{"year":2056,"cap":"No Cap","case":"82.5","value":3.575},{"year":2057,"cap":"No Cap","case":"82.5","value":3.45},{"year":2058,"cap":"No Cap","case":"82.5","value":3.28},{"year":2059,"cap":"No Cap","case":"82.5","value":2.85},
{"year":2060,"cap":"No Cap","case":"82.5","value":3.20},

{"year":2024,"cap":"5.0 Cap","case":"82.5","value":4.53},
{"year":2025,"cap":"5.0 Cap","case":"82.5","value":4.62},{"year":2026,"cap":"5.0 Cap","case":"82.5","value":4.17},{"year":2027,"cap":"5.0 Cap","case":"82.5","value":3.64},{"year":2028,"cap":"5.0 Cap","case":"82.5","value":3.00},{"year":2029,"cap":"5.0 Cap","case":"82.5","value":2.40},
{"year":2030,"cap":"5.0 Cap","case":"82.5","value":3.07},{"year":2031,"cap":"5.0 Cap","case":"82.5","value":2.79},{"year":2032,"cap":"5.0 Cap","case":"82.5","value":3.32},{"year":2033,"cap":"5.0 Cap","case":"82.5","value":3.62},{"year":2034,"cap":"5.0 Cap","case":"82.5","value":3.76},
{"year":2035,"cap":"5.0 Cap","case":"82.5","value":3.90},{"year":2036,"cap":"5.0 Cap","case":"82.5","value":3.94},{"year":2037,"cap":"5.0 Cap","case":"82.5","value":3.40},{"year":2038,"cap":"5.0 Cap","case":"82.5","value":2.87},{"year":2039,"cap":"5.0 Cap","case":"82.5","value":2.42},
{"year":2040,"cap":"5.0 Cap","case":"82.5","value":3.00},{"year":2041,"cap":"5.0 Cap","case":"82.5","value":2.98},{"year":2042,"cap":"5.0 Cap","case":"82.5","value":3.38},{"year":2043,"cap":"5.0 Cap","case":"82.5","value":3.595},{"year":2044,"cap":"5.0 Cap","case":"82.5","value":3.595},
{"year":2045,"cap":"5.0 Cap","case":"82.5","value":3.885},{"year":2046,"cap":"5.0 Cap","case":"82.5","value":3.67},{"year":2047,"cap":"5.0 Cap","case":"82.5","value":3.41},{"year":2048,"cap":"5.0 Cap","case":"82.5","value":3.30},{"year":2049,"cap":"5.0 Cap","case":"82.5","value":2.87},
{"year":2050,"cap":"5.0 Cap","case":"82.5","value":3.16},{"year":2051,"cap":"5.0 Cap","case":"82.5","value":2.95},{"year":2052,"cap":"5.0 Cap","case":"82.5","value":3.03},{"year":2053,"cap":"5.0 Cap","case":"82.5","value":3.36},{"year":2054,"cap":"5.0 Cap","case":"82.5","value":3.51},
{"year":2055,"cap":"5.0 Cap","case":"82.5","value":3.51},{"year":2056,"cap":"5.0 Cap","case":"82.5","value":3.49},{"year":2057,"cap":"5.0 Cap","case":"82.5","value":3.42},{"year":2058,"cap":"5.0 Cap","case":"82.5","value":3.22},{"year":2059,"cap":"5.0 Cap","case":"82.5","value":2.96},
{"year":2060,"cap":"5.0 Cap","case":"82.5","value":3.19},

{"year":2024,"cap":"4.5 Cap","case":"82.5","value":4.28},
{"year":2025,"cap":"4.5 Cap","case":"82.5","value":4.28},{"year":2026,"cap":"4.5 Cap","case":"82.5","value":3.95},{"year":2027,"cap":"4.5 Cap","case":"82.5","value":3.55},{"year":2028,"cap":"4.5 Cap","case":"82.5","value":3.00},{"year":2029,"cap":"4.5 Cap","case":"82.5","value":2.43},
{"year":2030,"cap":"4.5 Cap","case":"82.5","value":3.05},{"year":2031,"cap":"4.5 Cap","case":"82.5","value":2.78},{"year":2032,"cap":"4.5 Cap","case":"82.5","value":3.26},{"year":2033,"cap":"4.5 Cap","case":"82.5","value":3.43},{"year":2034,"cap":"4.5 Cap","case":"82.5","value":3.57},
{"year":2035,"cap":"4.5 Cap","case":"82.5","value":3.69},{"year":2036,"cap":"4.5 Cap","case":"82.5","value":3.65},{"year":2037,"cap":"4.5 Cap","case":"82.5","value":3.47},{"year":2038,"cap":"4.5 Cap","case":"82.5","value":3.02},{"year":2039,"cap":"4.5 Cap","case":"82.5","value":2.59},
{"year":2040,"cap":"4.5 Cap","case":"82.5","value":2.98},{"year":2041,"cap":"4.5 Cap","case":"82.5","value":2.99},{"year":2042,"cap":"4.5 Cap","case":"82.5","value":3.28},{"year":2043,"cap":"4.5 Cap","case":"82.5","value":3.41},{"year":2044,"cap":"4.5 Cap","case":"82.5","value":3.52},
{"year":2045,"cap":"4.5 Cap","case":"82.5","value":3.69},{"year":2046,"cap":"4.5 Cap","case":"82.5","value":3.52},{"year":2047,"cap":"4.5 Cap","case":"82.5","value":3.39},{"year":2048,"cap":"4.5 Cap","case":"82.5","value":3.24},{"year":2049,"cap":"4.5 Cap","case":"82.5","value":3.05},
{"year":2050,"cap":"4.5 Cap","case":"82.5","value":3.14},{"year":2051,"cap":"4.5 Cap","case":"82.5","value":2.97},{"year":2052,"cap":"4.5 Cap","case":"82.5","value":3.02},{"year":2053,"cap":"4.5 Cap","case":"82.5","value":3.24},{"year":2054,"cap":"4.5 Cap","case":"82.5","value":3.39},
{"year":2055,"cap":"4.5 Cap","case":"82.5","value":3.45},{"year":2056,"cap":"4.5 Cap","case":"82.5","value":3.32},{"year":2057,"cap":"4.5 Cap","case":"82.5","value":3.24},{"year":2058,"cap":"4.5 Cap","case":"82.5","value":3.15},{"year":2059,"cap":"4.5 Cap","case":"82.5","value":2.99},
{"year":2060,"cap":"4.5 Cap","case":"82.5","value":3.18},

{"year":2024,"cap":"4.0 Cap","case":"82.5","value":3.945},
{"year":2025,"cap":"4.0 Cap","case":"82.5","value":3.93},{"year":2026,"cap":"4.0 Cap","case":"82.5","value":3.67},{"year":2027,"cap":"4.0 Cap","case":"82.5","value":3.30},{"year":2028,"cap":"4.0 Cap","case":"82.5","value":2.98},{"year":2029,"cap":"4.0 Cap","case":"82.5","value":2.51},
{"year":2030,"cap":"4.0 Cap","case":"82.5","value":2.95},{"year":2031,"cap":"4.0 Cap","case":"82.5","value":2.88},{"year":2032,"cap":"4.0 Cap","case":"82.5","value":3.12},{"year":2033,"cap":"4.0 Cap","case":"82.5","value":3.19},{"year":2034,"cap":"4.0 Cap","case":"82.5","value":3.30},
{"year":2035,"cap":"4.0 Cap","case":"82.5","value":3.46},{"year":2036,"cap":"4.0 Cap","case":"82.5","value":3.37},{"year":2037,"cap":"4.0 Cap","case":"82.5","value":3.13},{"year":2038,"cap":"4.0 Cap","case":"82.5","value":2.94},{"year":2039,"cap":"4.0 Cap","case":"82.5","value":2.70},
{"year":2040,"cap":"4.0 Cap","case":"82.5","value":2.915},{"year":2041,"cap":"4.0 Cap","case":"82.5","value":2.96},{"year":2042,"cap":"4.0 Cap","case":"82.5","value":3.14},{"year":2043,"cap":"4.0 Cap","case":"82.5","value":3.11},{"year":2044,"cap":"4.0 Cap","case":"82.5","value":3.17},
{"year":2045,"cap":"4.0 Cap","case":"82.5","value":3.44},{"year":2046,"cap":"4.0 Cap","case":"82.5","value":3.30},{"year":2047,"cap":"4.0 Cap","case":"82.5","value":3.26},{"year":2048,"cap":"4.0 Cap","case":"82.5","value":3.07},{"year":2049,"cap":"4.0 Cap","case":"82.5","value":2.97},
{"year":2050,"cap":"4.0 Cap","case":"82.5","value":2.98},{"year":2051,"cap":"4.0 Cap","case":"82.5","value":2.92},{"year":2052,"cap":"4.0 Cap","case":"82.5","value":3.07},{"year":2053,"cap":"4.0 Cap","case":"82.5","value":3.14},{"year":2054,"cap":"4.0 Cap","case":"82.5","value":3.23},
{"year":2055,"cap":"4.0 Cap","case":"82.5","value":3.15},{"year":2056,"cap":"4.0 Cap","case":"82.5","value":3.06},{"year":2057,"cap":"4.0 Cap","case":"82.5","value":3.07},{"year":2058,"cap":"4.0 Cap","case":"82.5","value":2.96},{"year":2059,"cap":"4.0 Cap","case":"82.5","value":2.94},
{"year":2060,"cap":"4.0 Cap","case":"82.5","value":3.05},

{"year":2024,"cap":"3.5 Cap","case":"82.5","value":3.495},
{"year":2025,"cap":"3.5 Cap","case":"82.5","value":3.475},{"year":2026,"cap":"3.5 Cap","case":"82.5","value":3.30},{"year":2027,"cap":"3.5 Cap","case":"82.5","value":3.09},{"year":2028,"cap":"3.5 Cap","case":"82.5","value":2.85},{"year":2029,"cap":"3.5 Cap","case":"82.5","value":2.45},
{"year":2030,"cap":"3.5 Cap","case":"82.5","value":2.87},{"year":2031,"cap":"3.5 Cap","case":"82.5","value":2.67},{"year":2032,"cap":"3.5 Cap","case":"82.5","value":2.90},{"year":2033,"cap":"3.5 Cap","case":"82.5","value":2.97},{"year":2034,"cap":"3.5 Cap","case":"82.5","value":3.08},
{"year":2035,"cap":"3.5 Cap","case":"82.5","value":3.25},{"year":2036,"cap":"3.5 Cap","case":"82.5","value":3.17},{"year":2037,"cap":"3.5 Cap","case":"82.5","value":3.10},{"year":2038,"cap":"3.5 Cap","case":"82.5","value":2.75},{"year":2039,"cap":"3.5 Cap","case":"82.5","value":2.68},
{"year":2040,"cap":"3.5 Cap","case":"82.5","value":2.72},{"year":2041,"cap":"3.5 Cap","case":"82.5","value":2.71},{"year":2042,"cap":"3.5 Cap","case":"82.5","value":2.93},{"year":2043,"cap":"3.5 Cap","case":"82.5","value":2.95},{"year":2044,"cap":"3.5 Cap","case":"82.5","value":2.99},
{"year":2045,"cap":"3.5 Cap","case":"82.5","value":3.00},{"year":2046,"cap":"3.5 Cap","case":"82.5","value":3.02},{"year":2047,"cap":"3.5 Cap","case":"82.5","value":3.08},{"year":2048,"cap":"3.5 Cap","case":"82.5","value":2.98},{"year":2049,"cap":"3.5 Cap","case":"82.5","value":2.89},
{"year":2050,"cap":"3.5 Cap","case":"82.5","value":2.93},{"year":2051,"cap":"3.5 Cap","case":"82.5","value":2.915},{"year":2052,"cap":"3.5 Cap","case":"82.5","value":2.83},{"year":2053,"cap":"3.5 Cap","case":"82.5","value":2.94},{"year":2054,"cap":"3.5 Cap","case":"82.5","value":2.99},
{"year":2055,"cap":"3.5 Cap","case":"82.5","value":2.93},{"year":2056,"cap":"3.5 Cap","case":"82.5","value":2.82},{"year":2057,"cap":"3.5 Cap","case":"82.5","value":2.94},{"year":2058,"cap":"3.5 Cap","case":"82.5","value":2.88},{"year":2059,"cap":"3.5 Cap","case":"82.5","value":2.89},
{"year":2060,"cap":"3.5 Cap","case":"82.5","value":2.89},

{"year":2024,"cap":"3.0 Cap","case":"82.5","value":3.0},
{"year":2025,"cap":"3.0 Cap","case":"82.5","value":2.99},{"year":2026,"cap":"3.0 Cap","case":"82.5","value":2.89},{"year":2027,"cap":"3.0 Cap","case":"82.5","value":2.79},{"year":2028,"cap":"3.0 Cap","case":"82.5","value":2.61},{"year":2029,"cap":"3.0 Cap","case":"82.5","value":2.28},
{"year":2030,"cap":"3.0 Cap","case":"82.5","value":2.56},{"year":2031,"cap":"3.0 Cap","case":"82.5","value":2.42},{"year":2032,"cap":"3.0 Cap","case":"82.5","value":2.72},{"year":2033,"cap":"3.0 Cap","case":"82.5","value":2.71},{"year":2034,"cap":"3.0 Cap","case":"82.5","value":2.73},
{"year":2035,"cap":"3.0 Cap","case":"82.5","value":2.80},{"year":2036,"cap":"3.0 Cap","case":"82.5","value":2.74},{"year":2037,"cap":"3.0 Cap","case":"82.5","value":2.755},{"year":2038,"cap":"3.0 Cap","case":"82.5","value":2.645},{"year":2039,"cap":"3.0 Cap","case":"82.5","value":2.48},
{"year":2040,"cap":"3.0 Cap","case":"82.5","value":2.51},{"year":2041,"cap":"3.0 Cap","case":"82.5","value":2.55},{"year":2042,"cap":"3.0 Cap","case":"82.5","value":2.67},{"year":2043,"cap":"3.0 Cap","case":"82.5","value":2.57},{"year":2044,"cap":"3.0 Cap","case":"82.5","value":2.635},
{"year":2045,"cap":"3.0 Cap","case":"82.5","value":2.73},{"year":2046,"cap":"3.0 Cap","case":"82.5","value":2.755},{"year":2047,"cap":"3.0 Cap","case":"82.5","value":2.67},{"year":2048,"cap":"3.0 Cap","case":"82.5","value":2.755},{"year":2049,"cap":"3.0 Cap","case":"82.5","value":2.72},
{"year":2050,"cap":"3.0 Cap","case":"82.5","value":2.765},{"year":2051,"cap":"3.0 Cap","case":"82.5","value":2.71},{"year":2052,"cap":"3.0 Cap","case":"82.5","value":2.645},{"year":2053,"cap":"3.0 Cap","case":"82.5","value":2.60},{"year":2054,"cap":"3.0 Cap","case":"82.5","value":2.59},
{"year":2055,"cap":"3.0 Cap","case":"82.5","value":2.625},{"year":2056,"cap":"3.0 Cap","case":"82.5","value":2.61},{"year":2057,"cap":"3.0 Cap","case":"82.5","value":2.625},{"year":2058,"cap":"3.0 Cap","case":"82.5","value":2.60},{"year":2059,"cap":"3.0 Cap","case":"82.5","value":2.68},
{"year":2060,"cap":"3.0 Cap","case":"82.5","value":2.65}
]
},
"layer":[
{
"data":{"name":"caps"},
"mark":{"type":"line","strokeWidth":3,"strokeCap":"butt","strokeJoin":"round"},
"encoding":{
"x":{"field":"year","type":"quantitative","scale":{"domain":[2020,2060],"nice":false,"zero":false},
"axis":{"title":null,"values":[2020,2025,2030,2035,2040,2045,2050,2055,2060],"format":"d","labelFontSize":18,"labelColor":"#404040","grid":true,"gridColor":"#d9d9d9","ticks":false,"labelPadding":20,"domain":true,"domainColor":"#d9d9d9"}},
"y":{"field":"value","type":"quantitative","scale":{"domain":[2,6],"nice":false,"zero":false},
"axis":{"orient":"left","title":"Upper Basin Depletions (maf)","titleFontSize":17,"titleFontWeight":"bold","titleColor":"#000000","titlePadding":22,"values":[2,2.5,3,3.5,4,4.5,5,5.5,6],"format":"~g","labelFontSize":18,"labelColor":"#404040","tickSize":8,"tickColor":"#a6a6a6","domainColor":"#a6a6a6","grid":true,"gridColor":"#d9d9d9","labelPadding":4}},
"color":{
"condition":[
{"test":"datum.cap === '5.0 Cap' && datum.case !== 'none'","value":"#7a1c1c"},
{"test":"datum.cap === '3.5 Cap' && datum.case === '82.5'","value":"#d4c24e"},
{"test":"datum.cap === '3.5 Cap' && datum.case === '75'","value":"#f0a500"}
],
"field":"cap","type":"nominal",
"scale":{"domain":["No Cap","5.0 Cap","4.5 Cap","4.0 Cap","3.5 Cap","3.0 Cap"],"range":["#1f2d6e","#c0161c","#ff3b14","#22e4f0","#ffb43c","#ff22ee"]},
"legend":{"orient":"none","legendX":271,"legendY":696,"direction":"horizontal","columns":6,"title":null,"symbolType":"stroke","symbolSize":1600,"symbolStrokeWidth":3,"clipHeight":22,"labelFontSize":19,"labelColor":"#1a1a1a","labelLimit":400,"columnPadding":3,"labelOffset":3,"padding":0}
},
"strokeDash":{"field":"case","type":"nominal","scale":{"domain":["none","75","82.5"],"range":[[1,0],[10,5],[3,3]]},
"legend":{"orient":"none","legendX":9,"legendY":-6,"title":null,"symbolType":"stroke","symbolSize":10816,"symbolStrokeColor":"#000000","symbolStrokeWidth":3.5,"clipHeight":18,"rowPadding":4,"labelFontSize":16.5,"labelColor":"#1a1a1a","labelLimit":500,"labelOffset":7,"padding":8,"fillColor":"#ffffff","strokeColor":"#7f8db0",
"labelExpr":"datum.value === 'none' ? 'No Compact curtailments implemented' : datum.value === '75' ? '75 maf threshold' : '82.5 maf threshold'"}}
}
},
{
"data":{"name":"ucrc"},
"mark":{"type":"line","strokeWidth":7,"strokeDash":[14,16],"strokeCap":"round"},
"encoding":{
"x":{"field":"year","type":"quantitative","axis":null},
"y":{"field":"value","type":"quantitative","axis":null},
"color":{"field":"cap","type":"nominal",
"scale":{"domain":["2007 UCRC Schedule"],"range":["#000000"]},
"legend":{"orient":"none","legendX":18,"legendY":696,"title":null,"symbolType":"stroke","symbolSize":2116,"symbolStrokeWidth":6.5,"symbolDash":[18,9],"clipHeight":22,"labelFontSize":19,"labelColor":"#1a1a1a","labelLimit":400,"labelOffset":3,"padding":0}}
}
},
{
"data":{"name":"avg"},
"mark":{"type":"rule","stroke":"#5b8a2e","strokeWidth":4,"strokeDash":[11,5]},
"encoding":{
"x":{"field":"start","type":"quantitative","axis":null},
"x2":{"field":"end"},
"y":{"field":"value","type":"quantitative","axis":null}
}
},
{
"data":{"name":"avg"},
"mark":{"type":"text","text":"1988-2018 Average","align":"left","baseline":"middle","dx":2,"dy":19,"fontSize":16.5,"color":"#404040"},
"encoding":{
"x":{"field":"start","type":"quantitative","axis":null},
"y":{"field":"value","type":"quantitative","axis":null}
}
},
{
"data":{"name":"ref2018"},
"mark":{"type":"square","filled":false,"stroke":"#5b8a2e","strokeWidth":3.5,"size":90,"opacity":1},
"encoding":{
"x":{"field":"year","type":"quantitative","axis":null},
"y":{"field":"value","type":"quantitative","axis":{"orient":"left","title":null,"values":[2,2.1,2.2,2.3,2.4,2.5,2.6,2.7,2.8,2.9,3,3.1,3.2,3.3,3.4,3.5,3.6,3.7,3.8,3.9,4,4.1,4.2,4.3,4.4,4.5,4.6,4.7,4.8,4.9,5,5.1,5.2,5.3,5.4,5.5,5.6,5.7,5.8,5.9,6],"tickSize":4,"tickColor":"#a6a6a6","labels":false,"grid":false,"domain":false}}
}
},
{
"data":{"name":"ref2018"},
"mark":{"type":"text","text":"2018 Value","align":"center","baseline":"middle","dx":17,"dy":17,"fontSize":15,"color":"#404040"},
"encoding":{
"x":{"field":"year","type":"quantitative","axis":null},
"y":{"field":"value","type":"quantitative","axis":null}
}
}
],
"resolve":{"axis":{"y":"independent"},"scale":{"color":"independent"}}
}
